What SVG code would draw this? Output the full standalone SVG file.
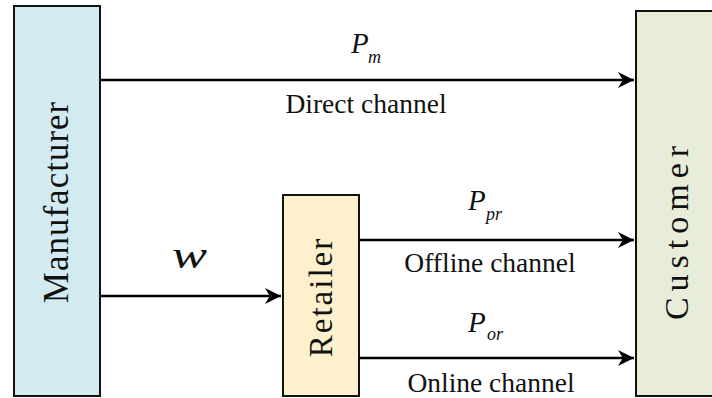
<svg xmlns="http://www.w3.org/2000/svg" width="712" height="398" viewBox="0 0 712 398">
<style>
.box{stroke:#111;stroke-width:2}
text{font-family:'Liberation Serif','Times New Roman',Tinos,'DejaVu Serif',serif;fill:#111}
.lbl{text-anchor:middle}
.it{font-style:italic}
.ln{stroke:#000;stroke-width:2.5;fill:none}
</style>
<defs>
<marker id="ah" viewBox="0 0 10 10" refX="10" refY="5" markerWidth="20" markerHeight="16" markerUnits="userSpaceOnUse" orient="auto">
<path d="M0,0 L10,5 L0,10 L3,5 Z" fill="#000"/>
</marker>
</defs>
<g id="manufacturer">
<rect class="box" x="14" y="6" width="86" height="390" fill="#d3ebf0"/>
<text class="lbl" font-size="35" letter-spacing="1" transform="translate(68,202) rotate(-90)">Manufacturer</text>
</g>
<g id="customer">
<rect class="box" x="636" y="11" width="80" height="385" fill="#e8edda"/>
<text class="lbl" font-size="34" letter-spacing="6" transform="translate(688,230) rotate(-90)">Customer</text>
</g>
<g id="retailer">
<rect class="box" x="283" y="195" width="76" height="201" fill="#fdf0cc"/>
<text class="lbl" font-size="33" letter-spacing="2" transform="translate(332,297) rotate(-90)">Retailer</text>
</g>
<g id="connectors">
<line class="ln" x1="100" y1="80" x2="634" y2="80" marker-end="url(#ah)"/>
<line class="ln" x1="100" y1="296" x2="281" y2="296" marker-end="url(#ah)"/>
<line class="ln" x1="359" y1="240" x2="634" y2="240" marker-end="url(#ah)"/>
<line class="ln" x1="359" y1="358" x2="634" y2="358" marker-end="url(#ah)"/>
</g>
<g id="labels">
<text class="it" x="351" y="53" font-size="29">P</text>
<text class="it" x="368" y="63" font-size="18">m</text>
<text class="lbl" x="366" y="113" font-size="27.5">Direct channel</text>
<text class="it" x="172" y="268" font-size="38" textLength="35" lengthAdjust="spacingAndGlyphs">w</text>
<text class="it" x="468" y="210" font-size="29">P</text>
<text class="it" x="486" y="220" font-size="18">pr</text>
<text class="lbl" x="490" y="272" font-size="27.5">Offline channel</text>
<text class="it" x="468" y="332" font-size="29">P</text>
<text class="it" x="487" y="340" font-size="18">or</text>
<text class="lbl" x="491" y="392" font-size="27.5">Online channel</text>
</g>
</svg>
